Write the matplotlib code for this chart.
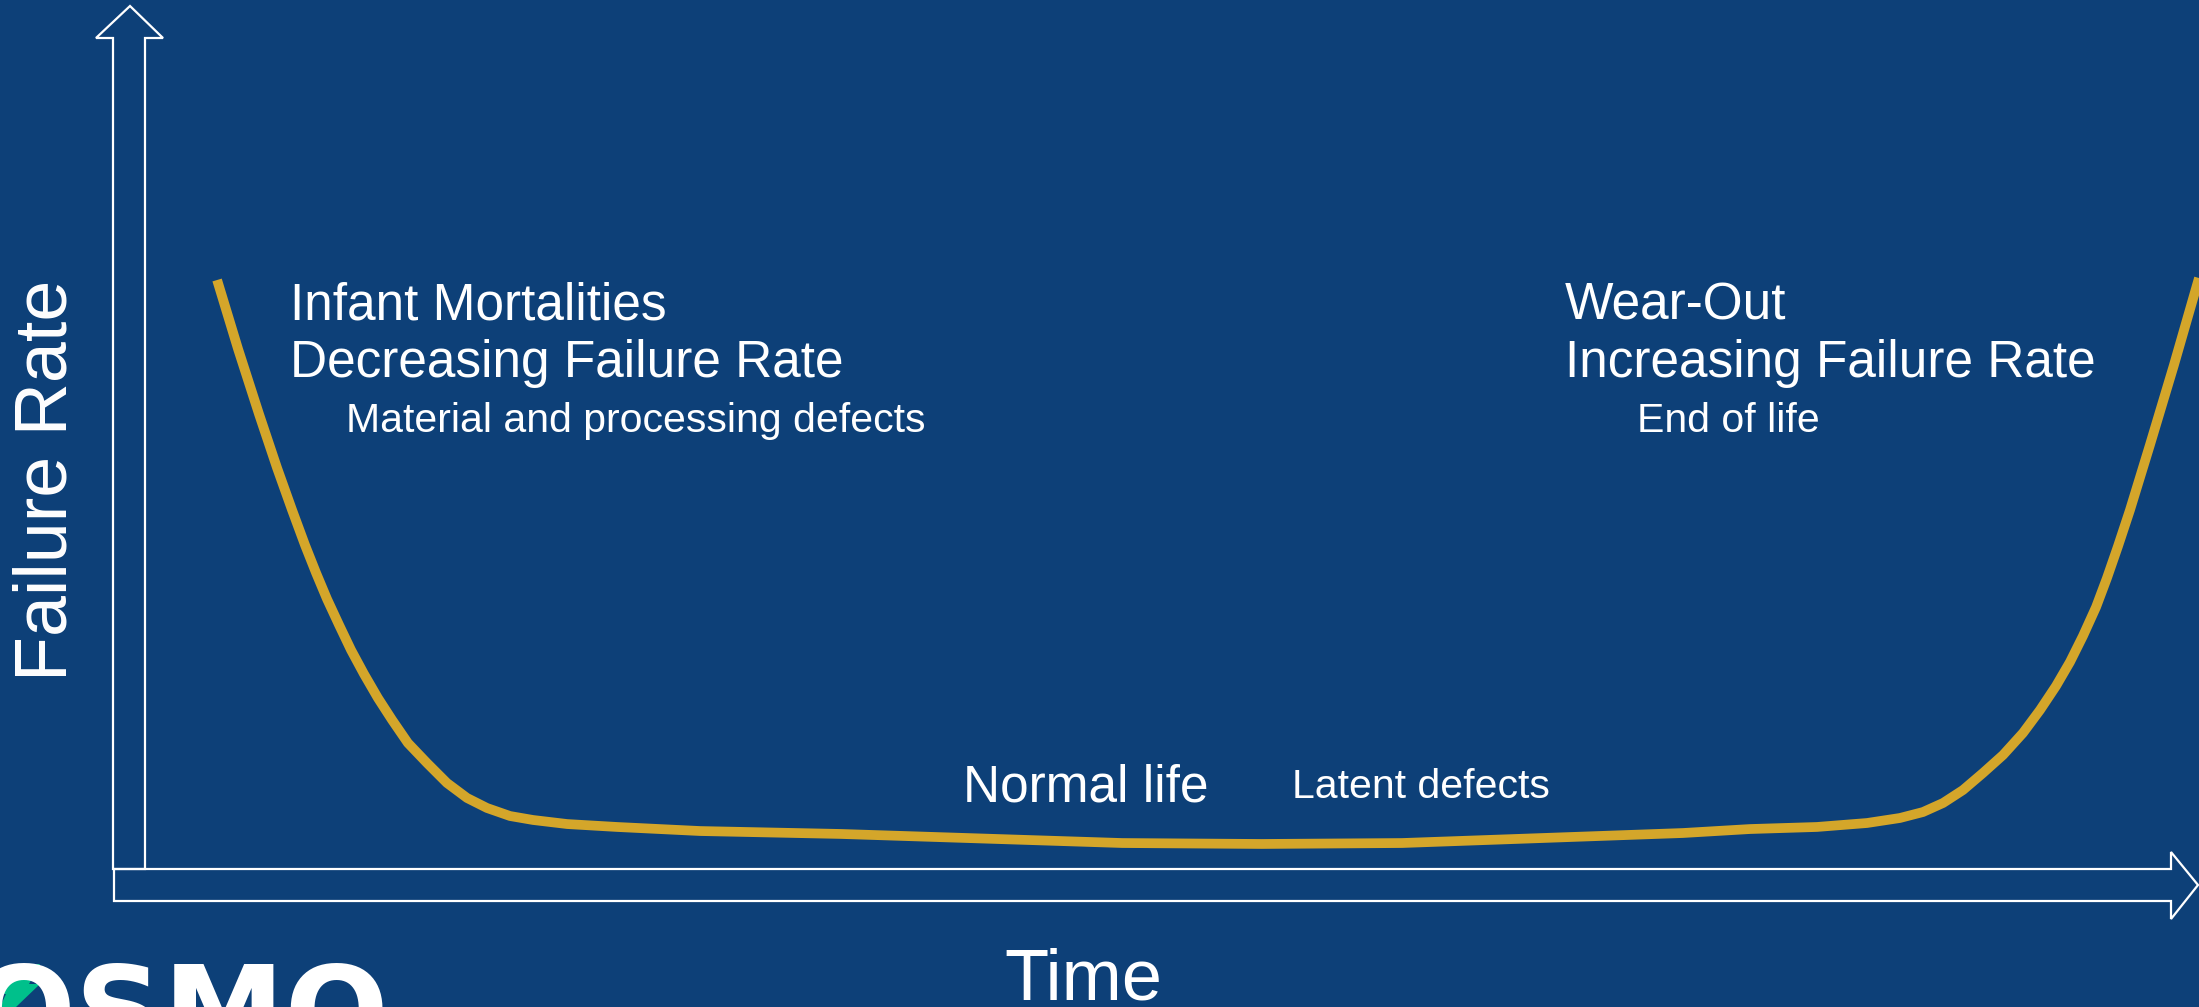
import matplotlib.pyplot as plt
from matplotlib.patches import Polygon

# bathtub curve, time and failure rate in percent of the axis length
time = [3.51, 4.53, 5.55, 6.43, 7.16, 7.79, 8.33, 8.86, 9.45, 10.03,
        10.66, 11.34, 12.03, 12.80, 13.73, 14.70, 15.68, 16.65, 17.77,
        18.89, 20.55, 22.98, 27.02, 33.89, 47.57, 54.38, 61.20, 74.88,
        78.14, 81.40, 83.84, 85.44, 86.56, 87.54, 88.51, 89.48, 90.46,
        91.43, 92.26, 93.04, 93.72, 94.35, 94.99, 95.52, 96.06, 96.64,
        97.61, 98.78, 100.0]
rate = [68.25, 60.26, 52.72, 46.47, 41.60, 37.54, 34.30, 31.29, 28.27, 25.38,
        22.60, 19.81, 17.27, 14.60, 12.28, 9.97, 8.23, 7.07, 6.14,
        5.68, 5.21, 4.87, 4.40, 4.06, 3.01, 2.90, 3.01, 4.17,
        4.63, 4.87, 5.33, 5.91, 6.60, 7.65, 9.15, 11.12, 13.21,
        15.76, 18.42, 21.21, 23.99, 27.00, 30.36, 33.72, 37.43, 41.60,
        49.13, 58.40, 68.48]

left_titles = ['Infant Mortalities', 'Decreasing Failure Rate']
right_titles = ['Wear-Out', 'Increasing Failure Rate']
phase_notes = ['Material and processing defects', 'End of life']

BG = '#0d4078'
GOLD = '#d4a62a'
W, H = 2199, 1007

fig = plt.figure(figsize=(W / 100, H / 100), dpi=100)
fig.patch.set_facecolor(BG)

# overlay in pixel units for arrows, labels and logo
ax = fig.add_axes([0, 0, 1, 1])
ax.set_xlim(0, W)
ax.set_ylim(H, 0)
ax.axis('off')

# block arrows for the axes
y_arrow = [(113, 869), (113, 38), (96, 38), (130, 6), (163, 38), (145, 38), (145, 869)]
x_arrow = [(114, 869), (2171, 869), (2171, 852), (2198, 885), (2171, 919), (2171, 901), (114, 901)]
for pts in (y_arrow, x_arrow):
    ax.add_patch(Polygon(pts, closed=True, fill=False, edgecolor='white', lw=1.6))

# curve axes: origin at the arrow corner
x0, y0, y1 = 145, 869, 6
cx = fig.add_axes([x0 / W, (H - y0) / H, (W - x0) / W, (y0 - y1) / H])
cx.set_xlim(0, 100)
cx.set_ylim(0, 100)
cx.axis('off')
cx.plot(time, rate, color=GOLD, lw=7, solid_capstyle='butt',
        solid_joinstyle='round', clip_on=False)

font = 'Liberation Sans'
big, small = 37, 29.5
for i, s in enumerate(left_titles):
    ax.text(290, 320 + 57 * i, s, color='white', fontsize=big, family=font,
            ha='left', va='baseline')
for i, s in enumerate(right_titles):
    ax.text(1565, 320 + 57 * i, s, color='white', fontsize=big, family=font,
            ha='left', va='baseline')
ax.text(346, 432, phase_notes[0], color='white', fontsize=small, family=font,
        ha='left', va='baseline')
ax.text(1637, 432, phase_notes[1], color='white', fontsize=small, family=font,
        ha='left', va='baseline')
ax.text(963, 802, 'Normal life', color='white', fontsize=big, family=font,
        ha='left', va='baseline')
ax.text(1292, 798, 'Latent defects', color='white', fontsize=small, family=font,
        ha='left', va='baseline')

ax.text(1083, 1000, 'Time', color='white', fontsize=52, family=font,
        ha='center', va='baseline')
ax.text(67, 480, 'Failure Rate', color='white', fontsize=53, family=font,
        rotation=90, rotation_mode='anchor', ha='center', va='baseline')

# logo in the bottom-left corner, partly cut off
ax.text(-28, 1053, 'OSMO', color='white', fontsize=88, family='DejaVu Sans',
        fontweight='heavy', ha='left', va='baseline')
bolt = [(14, 964), (40, 964), (29, 984), (40, 984), (16, 1007), (0, 1007), (6, 994), (0, 994)]
ax.add_patch(Polygon(bolt, closed=True, facecolor='#00c08b', edgecolor='none'))

fig.savefig('out.png', dpi=100, facecolor=BG)
